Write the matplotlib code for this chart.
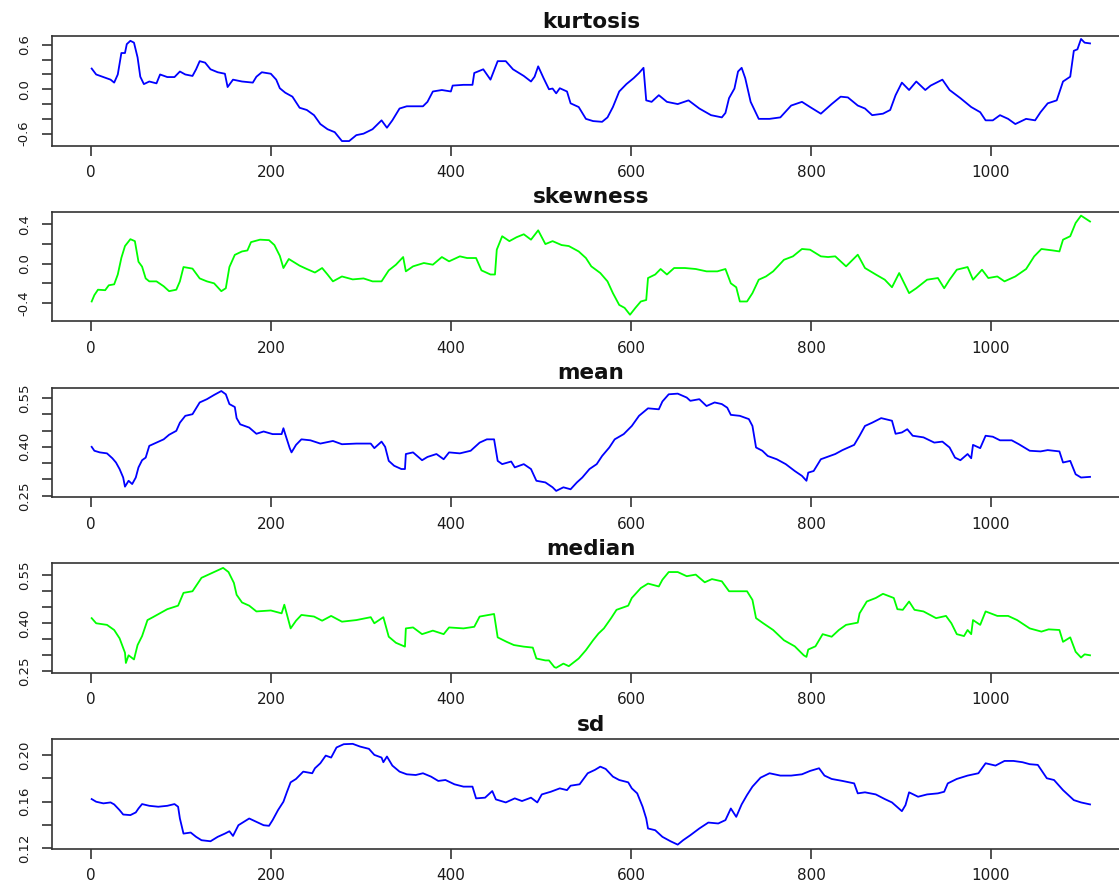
"""
Rolling statistics of a series: kurtosis, skewness, mean, median and sd,
drawn as five stacked panels in the style of R base graphics.
"""

import matplotlib
matplotlib.use("Agg")
import matplotlib.pyplot as plt

# (index, value) pairs
KURTOSIS = [
    (1, 0.28), (6, 0.20), (14, 0.165), (22, 0.13), (26, 0.09), (30, 0.20), (34, 0.49),
    (38, 0.49), (40, 0.61), (44, 0.655), (48, 0.63), (52, 0.43), (55, 0.17), (59, 0.07),
    (65, 0.105), (73, 0.08), (77, 0.20), (85, 0.165), (93, 0.165), (99, 0.24), (105, 0.20),
    (113, 0.18), (117, 0.27), (121, 0.38), (127, 0.36), (133, 0.27), (141, 0.23), (149, 0.21),
    (152, 0.03), (158, 0.13), (168, 0.105), (180, 0.09), (184, 0.17), (190, 0.23), (200, 0.21),
    (206, 0.13), (210, 0.014), (216, -0.046), (224, -0.10), (232, -0.25), (240, -0.28),
    (248, -0.35), (255, -0.47), (263, -0.54), (271, -0.58), (279, -0.70), (287, -0.70),
    (295, -0.62), (303, -0.60), (313, -0.54), (323, -0.42), (329, -0.52), (335, -0.42),
    (343, -0.26), (351, -0.23), (359, -0.23), (369, -0.23), (374, -0.17), (380, -0.03),
    (390, -0.01), (400, -0.03), (402, 0.05), (414, 0.06), (424, 0.06), (426, 0.22),
    (436, 0.27), (444, 0.13), (452, 0.38), (461, 0.38), (469, 0.27), (481, 0.18),
    (489, 0.105), (493, 0.17), (497, 0.31), (503, 0.15), (509, 0.0), (513, 0.01),
    (517, -0.055), (521, 0.014), (529, -0.03), (533, -0.19), (542, -0.24), (550, -0.40),
    (558, -0.43), (568, -0.44), (574, -0.38), (580, -0.24), (587, -0.03), (595, 0.07),
    (603, 0.15), (609, 0.22), (614, 0.29), (617, -0.15), (623, -0.17), (631, -0.08),
    (640, -0.17), (652, -0.20), (664, -0.15), (676, -0.26), (689, -0.35), (701, -0.38),
    (705, -0.32), (709, -0.12), (715, 0.01), (719, 0.24), (723, 0.29), (727, 0.15),
    (733, -0.17), (742, -0.40), (754, -0.40), (766, -0.38), (778, -0.22), (790, -0.17),
    (799, -0.24), (811, -0.33), (823, -0.20), (833, -0.10), (841, -0.11), (852, -0.22),
    (860, -0.26), (868, -0.35), (880, -0.33), (888, -0.28), (894, -0.08), (901, 0.09),
    (909, -0.01), (917, 0.105), (927, -0.01), (933, 0.05), (946, 0.13), (954, -0.01),
    (966, -0.12), (978, -0.24), (988, -0.31), (994, -0.42), (1002, -0.42), (1010, -0.35),
    (1019, -0.40), (1027, -0.47), (1039, -0.40), (1049, -0.42), (1055, -0.31), (1063, -0.19),
    (1073, -0.15), (1080, 0.105), (1088, 0.17), (1092, 0.52), (1096, 0.54), (1100, 0.68),
    (1104, 0.63), (1110, 0.62),
]

SKEWNESS = [
    (1, -0.385), (4, -0.32), (8, -0.265), (16, -0.27), (20, -0.22), (26, -0.21), (30, -0.11),
    (34, 0.06), (38, 0.18), (44, 0.25), (49, 0.23), (53, 0.02), (57, -0.03), (61, -0.15),
    (65, -0.18), (73, -0.18), (81, -0.23), (87, -0.28), (95, -0.265), (99, -0.18),
    (103, -0.034), (113, -0.05), (121, -0.15), (129, -0.18), (137, -0.20), (145, -0.28),
    (150, -0.25), (154, -0.034), (160, 0.09), (168, 0.125), (174, 0.135), (178, 0.22),
    (188, 0.245), (198, 0.24), (204, 0.19), (210, 0.08), (214, -0.044), (220, 0.048),
    (232, -0.02), (240, -0.054), (249, -0.09), (257, -0.044), (263, -0.11), (269, -0.18),
    (279, -0.13), (291, -0.16), (303, -0.15), (313, -0.18), (323, -0.18), (331, -0.068),
    (339, -0.01), (347, 0.068), (350, -0.078), (358, -0.027), (370, 0.007), (380, -0.01),
    (390, 0.068), (398, 0.024), (410, 0.075), (418, 0.058), (428, 0.058), (434, -0.068),
    (444, -0.11), (449, -0.11), (451, 0.143), (457, 0.28), (465, 0.23), (473, 0.27),
    (481, 0.30), (489, 0.245), (497, 0.34), (505, 0.20), (513, 0.23), (523, 0.19),
    (531, 0.18), (542, 0.125), (550, 0.058), (556, -0.027), (566, -0.095), (574, -0.18),
    (580, -0.30), (587, -0.42), (593, -0.45), (599, -0.52), (605, -0.45), (611, -0.385),
    (617, -0.37), (619, -0.146), (627, -0.11), (633, -0.054), (640, -0.11), (648, -0.044),
    (660, -0.044), (672, -0.054), (684, -0.078), (696, -0.078), (705, -0.054), (711, -0.20),
    (717, -0.24), (721, -0.385), (729, -0.385), (735, -0.30), (742, -0.163), (750, -0.13),
    (758, -0.078), (770, 0.04), (780, 0.075), (790, 0.15), (799, 0.143), (811, 0.075),
    (819, 0.068), (827, 0.075), (839, -0.027), (852, 0.092), (860, -0.044), (872, -0.11),
    (882, -0.163), (890, -0.24), (898, -0.095), (909, -0.30), (917, -0.25), (929, -0.163),
    (941, -0.146), (948, -0.25), (954, -0.163), (962, -0.061), (974, -0.034), (980, -0.163),
    (990, -0.061), (997, -0.146), (1007, -0.13), (1015, -0.18), (1027, -0.13),
    (1039, -0.054), (1048, 0.075), (1056, 0.15), (1068, 0.136), (1076, 0.125), (1080, 0.245),
    (1088, 0.28), (1094, 0.415), (1100, 0.49), (1104, 0.466), (1110, 0.43),
]

MEAN = [
    (1, 0.40), (4, 0.388), (10, 0.383), (18, 0.38), (24, 0.365), (28, 0.352), (32, 0.332),
    (36, 0.306), (38, 0.278), (42, 0.296), (46, 0.286), (50, 0.306), (53, 0.337), (57, 0.359),
    (61, 0.367), (65, 0.403), (73, 0.413), (81, 0.423), (87, 0.437), (95, 0.449), (99, 0.474),
    (105, 0.495), (113, 0.50), (121, 0.536), (129, 0.546), (137, 0.559), (145, 0.571),
    (150, 0.561), (154, 0.531), (160, 0.522), (162, 0.488), (166, 0.469), (176, 0.459),
    (184, 0.44), (192, 0.447), (202, 0.439), (212, 0.439), (214, 0.457), (216, 0.439),
    (221, 0.396), (223, 0.383), (228, 0.406), (234, 0.423), (244, 0.42), (255, 0.41),
    (269, 0.418), (279, 0.408), (295, 0.41), (311, 0.41), (315, 0.396), (323, 0.416),
    (327, 0.40), (331, 0.357), (337, 0.342), (345, 0.332), (349, 0.332), (350, 0.378),
    (358, 0.383), (368, 0.359), (374, 0.369), (384, 0.378), (392, 0.362), (398, 0.383),
    (410, 0.38), (422, 0.388), (432, 0.413), (440, 0.423), (448, 0.423), (452, 0.357),
    (457, 0.347), (467, 0.355), (471, 0.337), (481, 0.347), (489, 0.332), (495, 0.296),
    (505, 0.291), (513, 0.276), (517, 0.265), (525, 0.276), (533, 0.27), (540, 0.291),
    (546, 0.306), (554, 0.332), (562, 0.347), (568, 0.372), (576, 0.398), (582, 0.423),
    (592, 0.439), (601, 0.464), (609, 0.495), (619, 0.518), (631, 0.515), (635, 0.539),
    (642, 0.561), (652, 0.563), (662, 0.551), (666, 0.541), (676, 0.546), (684, 0.525),
    (693, 0.536), (701, 0.531), (707, 0.52), (711, 0.498), (721, 0.495), (731, 0.485),
    (735, 0.464), (739, 0.398), (746, 0.388), (752, 0.372), (762, 0.362), (772, 0.347),
    (782, 0.326), (790, 0.311), (795, 0.296), (797, 0.321), (803, 0.326), (811, 0.362),
    (821, 0.372), (827, 0.378), (835, 0.39), (848, 0.406), (854, 0.434), (860, 0.464),
    (868, 0.474), (878, 0.488), (890, 0.48), (894, 0.44), (901, 0.444), (907, 0.454),
    (913, 0.434), (925, 0.429), (937, 0.413), (946, 0.416), (954, 0.398), (960, 0.367),
    (966, 0.359), (974, 0.378), (978, 0.365), (980, 0.406), (988, 0.396), (994, 0.434),
    (1002, 0.431), (1010, 0.42), (1023, 0.42), (1031, 0.408), (1043, 0.388), (1055, 0.386),
    (1063, 0.39), (1076, 0.386), (1080, 0.352), (1088, 0.357), (1094, 0.316), (1100, 0.306),
    (1110, 0.308),
]

MEDIAN = [
    (1, 0.416), (6, 0.40), (18, 0.395), (26, 0.379), (32, 0.353), (38, 0.308), (39, 0.276),
    (42, 0.30), (48, 0.287), (52, 0.332), (57, 0.36), (63, 0.41), (69, 0.419), (85, 0.444),
    (97, 0.455), (103, 0.495), (113, 0.50), (123, 0.542), (137, 0.56), (147, 0.573),
    (153, 0.56), (159, 0.526), (162, 0.489), (168, 0.465), (176, 0.455), (184, 0.437),
    (200, 0.44), (212, 0.431), (215, 0.458), (218, 0.426), (222, 0.384), (228, 0.408),
    (234, 0.426), (248, 0.421), (257, 0.408), (267, 0.423), (279, 0.405), (295, 0.41),
    (311, 0.419), (315, 0.40), (325, 0.419), (331, 0.358), (339, 0.339), (349, 0.327),
    (350, 0.384), (358, 0.387), (368, 0.366), (380, 0.377), (392, 0.366), (398, 0.387),
    (414, 0.384), (426, 0.389), (432, 0.421), (448, 0.429), (452, 0.356), (462, 0.342),
    (470, 0.332), (481, 0.327), (491, 0.324), (495, 0.29), (505, 0.284), (509, 0.284),
    (515, 0.263), (517, 0.261), (525, 0.274), (531, 0.266), (542, 0.29), (550, 0.316),
    (558, 0.347), (564, 0.368), (570, 0.384), (578, 0.416), (584, 0.442), (597, 0.455),
    (601, 0.479), (611, 0.51), (619, 0.524), (631, 0.515), (635, 0.536), (642, 0.56),
    (652, 0.56), (662, 0.547), (672, 0.552), (682, 0.528), (690, 0.538), (701, 0.531),
    (709, 0.50), (721, 0.50), (729, 0.50), (735, 0.473), (739, 0.416), (747, 0.40),
    (758, 0.379), (770, 0.347), (782, 0.328), (792, 0.30), (795, 0.295), (797, 0.318),
    (805, 0.328), (813, 0.366), (823, 0.358), (831, 0.379), (839, 0.395), (852, 0.402),
    (854, 0.431), (862, 0.468), (872, 0.479), (880, 0.492), (892, 0.479), (896, 0.444),
    (902, 0.442), (909, 0.468), (915, 0.442), (925, 0.437), (939, 0.416), (950, 0.423),
    (956, 0.40), (962, 0.366), (970, 0.36), (974, 0.379), (978, 0.366), (980, 0.41),
    (988, 0.395), (994, 0.437), (1007, 0.423), (1019, 0.423), (1029, 0.41), (1043, 0.384),
    (1056, 0.374), (1064, 0.381), (1076, 0.379), (1080, 0.342), (1088, 0.356), (1094, 0.311),
    (1100, 0.293), (1104, 0.303), (1110, 0.30),
]

SD = [
    (1, 0.1623), (6, 0.16), (14, 0.1586), (22, 0.1594), (26, 0.1577), (32, 0.1528),
    (36, 0.149), (44, 0.1485), (50, 0.1508), (53, 0.1542), (57, 0.158), (65, 0.1565),
    (75, 0.1557), (85, 0.1565), (93, 0.158), (97, 0.1557), (99, 0.1456), (103, 0.1326),
    (111, 0.1335), (117, 0.1298), (123, 0.1269), (133, 0.126), (141, 0.1298), (149, 0.1326),
    (154, 0.1346), (158, 0.1306), (164, 0.1398), (170, 0.1427), (176, 0.1456), (184, 0.1427),
    (192, 0.1398), (198, 0.1393), (202, 0.1442), (208, 0.1528), (214, 0.16), (218, 0.1686),
    (222, 0.1767), (228, 0.1796), (236, 0.1859), (246, 0.1845), (249, 0.1888), (255, 0.1931),
    (261, 0.1997), (267, 0.198), (273, 0.2067), (281, 0.2095), (291, 0.2098), (299, 0.2075),
    (309, 0.2055), (315, 0.2003), (323, 0.198), (325, 0.194), (329, 0.1989), (335, 0.1911),
    (343, 0.1859), (351, 0.1836), (361, 0.183), (369, 0.1845), (378, 0.1816), (386, 0.1779),
    (394, 0.1787), (404, 0.175), (414, 0.173), (424, 0.173), (428, 0.1629), (438, 0.1635),
    (446, 0.1692), (450, 0.162), (461, 0.1594), (471, 0.1629), (479, 0.1606), (489, 0.1635),
    (496, 0.1594), (501, 0.1663), (511, 0.1686), (521, 0.1715), (529, 0.17), (533, 0.1738),
    (543, 0.175), (552, 0.1845), (560, 0.1874), (566, 0.1902), (572, 0.1882), (580, 0.1816),
    (587, 0.1787), (597, 0.1767), (601, 0.1715), (607, 0.1672), (613, 0.1557), (617, 0.1456),
    (619, 0.137), (627, 0.1355), (635, 0.1298), (644, 0.126), (652, 0.1231), (658, 0.1269),
    (666, 0.1312), (676, 0.137), (686, 0.1421), (697, 0.1413), (705, 0.1442), (711, 0.1542),
    (717, 0.147), (723, 0.1577), (729, 0.1658), (735, 0.173), (744, 0.1807), (754, 0.1845),
    (766, 0.1825), (778, 0.1825), (790, 0.1836), (799, 0.1865), (809, 0.1888), (815, 0.1825),
    (823, 0.1796), (835, 0.1779), (848, 0.1758), (852, 0.1672), (860, 0.1681), (872, 0.1663),
    (882, 0.1623), (890, 0.1594), (901, 0.1519), (905, 0.1571), (909, 0.1681), (919, 0.1643),
    (929, 0.1663), (941, 0.1672), (948, 0.1686), (952, 0.1758), (962, 0.1796), (974, 0.1825),
    (986, 0.1845), (994, 0.1931), (1005, 0.1911), (1015, 0.1951), (1025, 0.1951),
    (1035, 0.194), (1043, 0.1923), (1052, 0.1917), (1062, 0.1802), (1070, 0.1787),
    (1080, 0.17), (1092, 0.1614), (1100, 0.1594), (1110, 0.1577),
]

SERIES = [KURTOSIS, SKEWNESS, MEAN, MEDIAN, SD]
TITLES = ["kurtosis", "skewness", "mean", "median", "sd"]
COLORS = ["#0000ff", "#00ff00", "#0000ff", "#00ff00", "#0000ff"]

YLIMS = [(-0.76, 0.72), (-0.587, 0.529), (0.246, 0.5815), (0.245, 0.587), (0.1196, 0.2138)]
YTICKS = [
    [-0.6, -0.4, -0.2, 0.0, 0.2, 0.4, 0.6],
    [-0.4, -0.2, 0.0, 0.2, 0.4],
    [0.25, 0.30, 0.35, 0.40, 0.45, 0.50, 0.55],
    [0.25, 0.30, 0.35, 0.40, 0.45, 0.50, 0.55],
    [0.12, 0.14, 0.16, 0.18, 0.20],
]
YTICKLABELS = [
    ["-0.6", "", "", "0.0", "", "", "0.6"],
    ["-0.4", "", "0.0", "", "0.4"],
    ["0.25", "", "", "0.40", "", "", "0.55"],
    ["0.25", "", "", "0.40", "", "", "0.55"],
    ["0.12", "", "0.16", "", "0.20"],
]
XTICKS = [0, 200, 400, 600, 800, 1000]
XLIM = (-43.4, 1154.4)

W, H = 1119, 883
BOX_LEFT, BOX_RIGHT = 51.7, 1130.0   # right edge falls outside the picture
BOX_TOP0, BOX_STEP, BOX_H = 36.0, 175.8, 109.5

AXIS_COLOR = "#333333"
TEXT_COLOR = "#1a1a1a"

fig = plt.figure(figsize=(W / 100, H / 100), dpi=100)

for i, (data, title) in enumerate(zip(SERIES, TITLES)):
    top = BOX_TOP0 + i * BOX_STEP
    ax = fig.add_axes([BOX_LEFT / W, 1 - (top + BOX_H) / H,
                       (BOX_RIGHT - BOX_LEFT) / W, BOX_H / H])

    xs = [p[0] for p in data]
    ys = [p[1] for p in data]
    ax.plot(xs, ys, color=COLORS[i], linewidth=1.3)

    ax.set_xlim(*XLIM)
    ax.set_ylim(*YLIMS[i])
    ax.set_xticks(XTICKS)
    ax.set_xticklabels([str(t) for t in XTICKS])
    ax.set_yticks(YTICKS[i])
    ax.set_yticklabels(YTICKLABELS[i], rotation=90, va="center")

    for sp in ax.spines.values():
        sp.set_color(AXIS_COLOR)
        sp.set_linewidth(1.2)

    ax.tick_params(axis="both", direction="out", length=7, width=1.2,
                   color=AXIS_COLOR, labelcolor=TEXT_COLOR)
    ax.tick_params(axis="x", labelsize=11, pad=7)
    ax.tick_params(axis="y", labelsize=9.5, pad=8)

    ax.set_title(title, fontsize=15.5, fontweight="bold", color="#111111", pad=6)

fig.savefig("out.png", dpi=100)
